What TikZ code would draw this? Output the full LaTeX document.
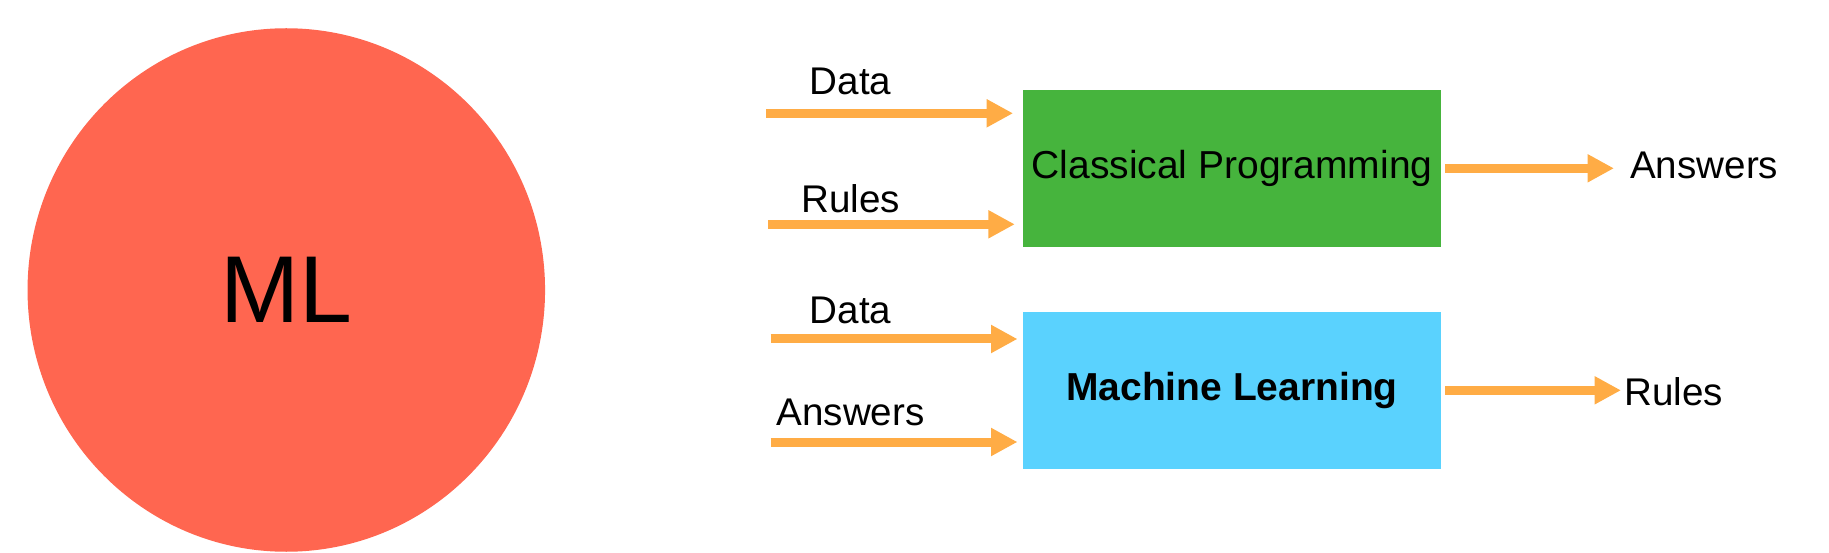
\documentclass[tikz,border=0pt]{standalone}
\usepackage{fontspec}
\setmainfont{Liberation Sans}
\usetikzlibrary{arrows.meta,shapes.geometric}
\definecolor{mlred}{HTML}{FF6650}
\definecolor{cpgreen}{HTML}{46B43D}
\definecolor{mlblue}{HTML}{5AD2FE}
\definecolor{flowc}{HTML}{FFAC45}
\begin{document}
\begin{tikzpicture}[x = 1pt, y = -1pt, >={Triangle[length=26.5pt, width=26.5pt]},
	box/.style = {minimum width=418pt, minimum height=156.7pt, inner sep=0pt, font=\fontsize{39}{46}\selectfont},
	lbl/.style = {anchor=base, inner sep=0pt, font=\fontsize{38.6}{46}\selectfont},
	flow/.style = {->, draw=flowc, line width=9pt}]
					\useasboundingbox (0,0) rectangle (1829,553);
					\node[ellipse, fill=mlred, minimum width=517.5pt, minimum height=523.5pt, inner sep=0pt, font=\fontsize{95}{110}\selectfont] (ml) at (286.3,290) {ML};
					\node[box, fill=cpgreen] (cp) at (1232,168.3) {Classical Programming};
					\node[box, fill=mlblue, font=\fontsize{39}{46}\selectfont\bfseries] (mlb) at (1232,390.3) {Machine Learning};
					\node[lbl] (data1) at (850.5,95) {Data};
					\node[lbl] (rules1) at (850.5,212.7) {Rules};
					\node[lbl] (data2) at (850.5,324) {Data};
					\node[lbl] (ans2) at (850.5,425) {Answers};
					\node[lbl, anchor=base west] (ans1) at (1630,178.3) {Answers};
					\node[lbl, anchor=base west] (rules2) at (1624,405) {Rules};
					\coordinate (D1) at (766,113.3);
					\coordinate (R1) at (768,224.3);
					\coordinate (D2) at (770.7,339);
					\coordinate (A2) at (770.7,442);
					\draw[flow, shorten >=9.7pt] (D1) -- (D1 -| cp.west);
					\draw[flow, shorten >=8pt] (R1) -- (R1 -| cp.west);
					\draw[flow, shorten >=5.3pt] (D2) -- (D2 -| mlb.west);
					\draw[flow, shorten >=5.3pt] (A2) -- (A2 -| mlb.west);
					\draw[flow, shorten <=4pt, shorten >=16pt] (cp.east) -- (cp.east -| ans1.west);
					\draw[flow, shorten <=4pt, shorten >=3pt] (mlb.east) -- (mlb.east -| rules2.west);
				\end{tikzpicture}
\end{document}
